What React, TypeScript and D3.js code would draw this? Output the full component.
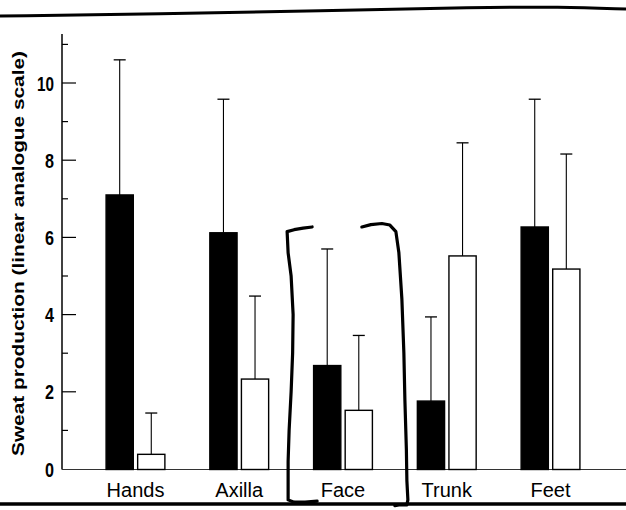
import React from "react";
import * as d3 from "d3";

const categories = ["Hands", "Axilla", "Face", "Trunk", "Feet"];
const seriesKeys = ["filled", "open"];
const filledMeans = [7.1, 6.12, 2.68, 1.76, 6.27];
const filledUpper = [10.6, 9.58, 5.7, 3.94, 9.58];
const openMeans = [0.38, 2.33, 1.52, 5.52, 5.18];
const openUpper = [1.45, 4.48, 3.46, 8.45, 8.16];
const majorTicks = [0, 2, 4, 6, 8, 10];
const minorTicks = [1, 3, 5, 7, 9, 11];
const yTitle = "Sweat production (linear analogue scale)";

// hand-drawn bracket annotation: [offset from band boundary (px), value]
const leftBracket: [number, number][] = [
  [21, 6.27], [12, 6.24], [3, 6.2], [-4, 6.15], [-3, 5.6], [0, 5.0], [2, 4.0], [1.5, 3.0], [0, 2.0], [-2, 1.0], [-3, 0.2], [-3, -0.5], [-3, -0.8], [3, -0.86], [14, -0.86], [26, -0.83],
];
const rightBracket: [number, number][] = [
  [-33, 6.27], [-24, 6.33], [-13, 6.36], [-5, 6.32], [1, 6.15], [4, 5.6], [7, 4.4], [9, 3.0], [10, 1.8], [11.5, 0.5], [12, -0.3], [13, -0.8], [12, -0.93], [4, -0.93], [0, -0.95],
];

const W = 626;
const H = 510;

export default function App() {
  const y = d3.scaleLinear().domain([0, 10]).range([469, 83]);
  const x = d3.scaleBand<string>().domain(categories).range([83.6, 602.4]).paddingInner(0).paddingOuter(0);
  const inner = d3.scaleBand<string>().domain(seriesKeys).range([-30, 30]).paddingInner(0.1);
  const axisX = 62;
  const font = "'Liberation Sans', Arial, Helvetica, sans-serif";

  const series = [
    { key: "filled", means: filledMeans, upper: filledUpper, fill: "#000" },
    { key: "open", means: openMeans, upper: openUpper, fill: "#fff" },
  ];

  const line = d3.line<[number, number]>().curve(d3.curveLinear);
  const bracketPath = (pts: [number, number][], boundaryIndex: number) => {
    const b = (x(categories[boundaryIndex]) as number);
    return line(pts.map(([dx, v]) => [b + dx, y(v)]));
  };

  return (
    <svg width={W} height={H} style={{ position: "absolute", left: 0, top: 0, background: "#fff" }}>
      <rect x={0} y={0} width={W} height={H} fill="#fff" />
      {/* scan borders */}
      <path d={d3.line().curve(d3.curveBasis)([[0, 16], [160, 14], [320, 11], [480, 7], [560, 7], [626, 9]]) || ""} stroke="#000" strokeWidth={3} fill="none" />
      <line x1={0} x2={W} y1={504} y2={504} stroke="#000" strokeWidth={3.5} />

      {/* y axis */}
      <line x1={axisX} x2={axisX} y1={y(11.27)} y2={y(0) + 0.5} stroke="#000" strokeWidth={1.5} />
      {majorTicks.filter((t) => t > 0).map((t) => (
        <line key={"M" + t} x1={axisX} x2={axisX + 14} y1={y(t)} y2={y(t)} stroke="#000" strokeWidth={1.2} />
      ))}
      {minorTicks.map((t) => (
        <line key={"m" + t} x1={axisX} x2={axisX + 6} y1={y(t)} y2={y(t)} stroke="#000" strokeWidth={1.2} />
      ))}
      {majorTicks.map((t) => {
        const s = String(t);
        return (
          <text key={"l" + t} x={54} y={y(t)} dy="0.36em" textAnchor="end" fontFamily={font} fontWeight="bold" fontSize={21}
            textLength={s.length === 1 ? 9 : 17} lengthAdjust="spacingAndGlyphs" fill="#000">
            {s}
          </text>
        );
      })}
      <text transform={`translate(24, 253.5) rotate(-90)`} textAnchor="middle" fontFamily={font} fontWeight="bold" fontSize={16.5}
        textLength={405} lengthAdjust="spacingAndGlyphs" fill="#000">
        {yTitle}
      </text>

      {/* x axis */}
      <line x1={axisX} x2={W} y1={y(0) + 0.5} y2={y(0) + 0.5} stroke="#333" strokeWidth={1} />

      {/* bars */}
      {series.map((s) =>
        categories.map((c, i) => {
          const cx = (x(c) as number) + x.bandwidth() / 2;
          const bx = cx + (inner(s.key) as number);
          const bw = inner.bandwidth();
          const top = y(s.means[i]);
          const errTop = y(s.upper[i]);
          const mid = bx + bw / 2;
          return (
            <g key={s.key + c}>
              <line x1={mid} x2={mid} y1={top} y2={errTop} stroke="#000" strokeWidth={1.1} />
              <line x1={mid - 6} x2={mid + 6} y1={errTop} y2={errTop} stroke="#000" strokeWidth={1.3} />
              <rect x={bx + 0.6} y={top} width={bw - 1.2} height={y(0) - top + 0.5} fill={s.fill} stroke="#000" strokeWidth={1.4} />
            </g>
          );
        })
      )}

      {/* category labels */}
      {categories.map((c) => (
        <text key={"c" + c} x={(x(c) as number) + x.bandwidth() / 2} y={497} textAnchor="middle" fontFamily={font} fontSize={20} fill="#000">
          {c}
        </text>
      ))}

      {/* hand-drawn brackets */}
      <path d={bracketPath(leftBracket, 2) || ""} stroke="#000" strokeWidth={3.2} fill="none" strokeLinecap="round" strokeLinejoin="round" />
      <path d={bracketPath(rightBracket, 3) || ""} stroke="#000" strokeWidth={3.2} fill="none" strokeLinecap="round" strokeLinejoin="round" />
    </svg>
  );
}
